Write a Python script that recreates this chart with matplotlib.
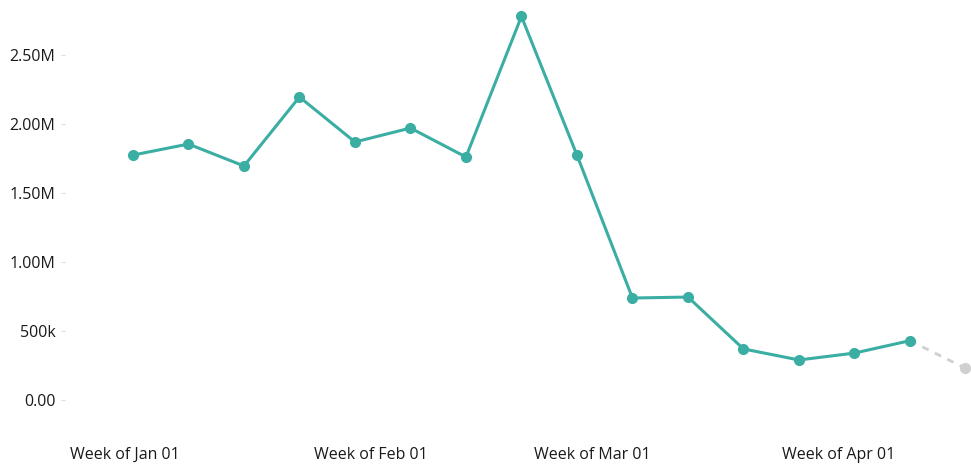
import matplotlib
matplotlib.use("Agg")
import matplotlib.pyplot as plt
import matplotlib.transforms as mtransforms

# Data (days since Jan 01, weekly)
week_days = [0, 7, 14, 21, 28, 35, 42, 49, 56, 63, 70, 77, 84, 91, 98]
values = [1.775e6, 1.855e6, 1.696e6, 2.196e6, 1.87e6, 1.971e6, 1.761e6, 2.78e6,
          1.775e6, 0.739e6, 0.746e6, 0.37e6, 0.29e6, 0.34e6, 0.43e6]
forecast_days = [98, 105]
forecast_values = [0.43e6, 0.23e6]

tick_days = [0, 31, 59, 90]
tick_labels = ["Week of Jan 01", "Week of Feb 01", "Week of Mar 01", "Week of Apr 01"]
ytick_vals = [0, 0.5e6, 1.0e6, 1.5e6, 2.0e6, 2.5e6]
ytick_labels = ["0.00", "500k", "1.00M", "1.50M", "2.00M", "2.50M"]

plt.rcParams['font.family'] = ['Open Sans', 'DejaVu Sans']

fig = plt.figure(figsize=(9.71, 4.65), dpi=100)
ax = fig.add_axes([65/971, 25/465, (971-65)/971, (440-0)/465])

teal = "#3BAEA3"
ax.plot(forecast_days, forecast_values, color="#D0D0D0", lw=2, ls=(0, (2.5, 2.5)),
        marker="o", markersize=7, markevery=[1], zorder=2)
ax.plot(week_days, values, color=teal, lw=2.2, marker="o", markersize=7, zorder=3)

ax.set_xlim(-8.57, 105.7)
ax.set_ylim(-0.29e6, 2.899e6)
ax.set_xticks(tick_days)
ax.set_xticklabels(tick_labels)
ax.set_yticks(ytick_vals)
ax.set_yticklabels(ytick_labels)

for s in ax.spines.values():
    s.set_visible(False)
ax.tick_params(axis='x', length=0, pad=5, labelsize=11.5, labelcolor="#1a1a1a")
ax.tick_params(axis='y', length=3, width=0.8, color="#DDDDDD", pad=4, labelsize=11.5, labelcolor="#1a1a1a")

offset = mtransforms.ScaledTranslation(-8/100, 0, fig.dpi_scale_trans)
for lab in ax.get_xticklabels():
    lab.set_transform(lab.get_transform() + offset)

fig.savefig("out.png", dpi=100)
